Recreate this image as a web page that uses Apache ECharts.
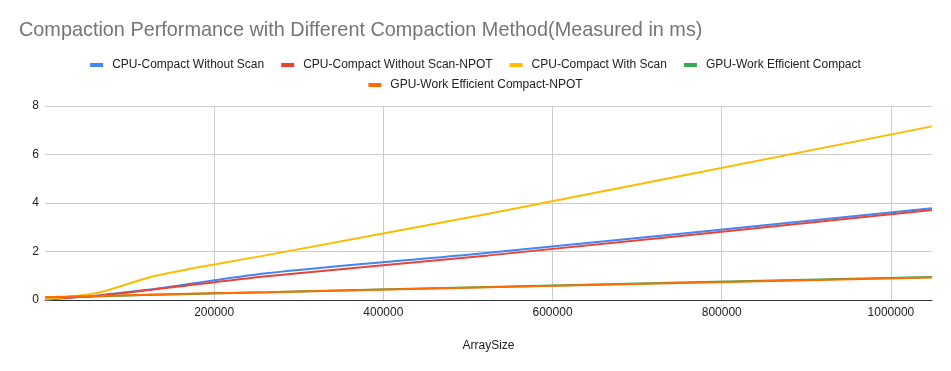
<!DOCTYPE html>
<html>
<head>
<meta charset="utf-8">
<script src="https://cdn.jsdelivr.net/npm/echarts@6/dist/echarts.min.js"></script>
<style>html,body{margin:0;padding:0;background:#fff;}#c{width:951px;height:371px;}</style>
</head>
<body>
<div id="c"></div>
<script>
const titleText = "Compaction Performance with Different Compaction Method(Measured in ms)";
const xAxisName = "ArraySize";
const arraySizes = [256, 4096, 16384, 32768, 65536, 131072, 262144, 524288, 1048576];
const seriesNames = ["CPU-Compact Without Scan", "CPU-Compact Without Scan-NPOT", "CPU-Compact With Scan", "GPU-Work Efficient Compact", "GPU-Work Efficient Compact-NPOT"];
const cpuNoScan     = [0.00, 0.02, 0.06, 0.10, 0.20, 0.46, 1.10, 1.95, 3.78];
const cpuNoScanNpot = [0.00, 0.02, 0.06, 0.10, 0.19, 0.44, 0.98, 1.84, 3.71];
const cpuScan       = [0.04, 0.05, 0.09, 0.15, 0.32, 1.00, 1.85, 3.56, 7.16];
const gpuWE         = [0.11, 0.11, 0.12, 0.13, 0.15, 0.22, 0.32, 0.54, 0.95];
const gpuWENpot     = [0.12, 0.12, 0.13, 0.14, 0.16, 0.23, 0.32, 0.53, 0.93];
const yTicks = [0, 2, 4, 6, 8];

const colors = ["#4285F4", "#EA4335", "#FBBC04", "#34A853", "#FF6D01"];
const allValues = [cpuNoScan, cpuNoScanNpot, cpuScan, gpuWE, gpuWENpot];
const FONT = "Liberation Sans, Arial, sans-serif";

const legendBase = {
  left: 'center',
  icon: 'rect', itemWidth: 13, itemHeight: 4, itemGap: 17,
  textStyle: {fontSize: 12, color: '#222', fontFamily: FONT, padding: [0,0,0,4]}
};

const chart = echarts.init(document.getElementById('c'), null, {renderer: 'canvas'});
chart.setOption({
  animation: false,
  color: colors,
  title: {
    text: titleText, left: 14, top: 16,
    textStyle: {fontSize: 19.85, fontWeight: 'normal', color: '#757575', fontFamily: FONT}
  },
  legend: [
    Object.assign({}, legendBase, {top: 54, data: seriesNames.slice(0, 4)}),
    Object.assign({}, legendBase, {top: 74, data: seriesNames.slice(4)})
  ],
  grid: {left: 45, right: 19, top: 106, bottom: 71, containLabel: false},
  xAxis: {
    type: 'value', min: 0, max: 1048576, interval: 200000,
    name: xAxisName, nameLocation: 'middle', nameGap: 40,
    nameTextStyle: {fontSize: 12, color: '#222', fontFamily: FONT},
    axisLine: {show: true, lineStyle: {color: '#333', width: 1}},
    axisTick: {show: false},
    axisLabel: {
      color: '#222', fontSize: 12, fontFamily: FONT, margin: 7,
      showMaxLabel: false,
      formatter: v => v === 0 ? '' : String(v)
    },
    splitLine: {show: true, showMinLine: false, showMaxLine: false, lineStyle: {color: '#ccc', width: 1}}
  },
  yAxis: {
    type: 'value', min: yTicks[0], max: yTicks[yTicks.length-1], interval: 2,
    axisLine: {show: false}, axisTick: {show: false},
    axisLabel: {color: '#222', fontSize: 12, fontFamily: FONT, margin: 6},
    splitLine: {show: true, lineStyle: {color: '#ccc', width: 1}}
  },
  series: seriesNames.map((n, i) => ({
    name: n, type: 'line', smooth: 0.3, showSymbol: false, symbol: 'none',
    lineStyle: {width: 2, color: colors[i]},
    itemStyle: {color: colors[i]},
    data: arraySizes.map((x, j) => [x, allValues[i][j]])
  }))
});
</script>
</body>
</html>
